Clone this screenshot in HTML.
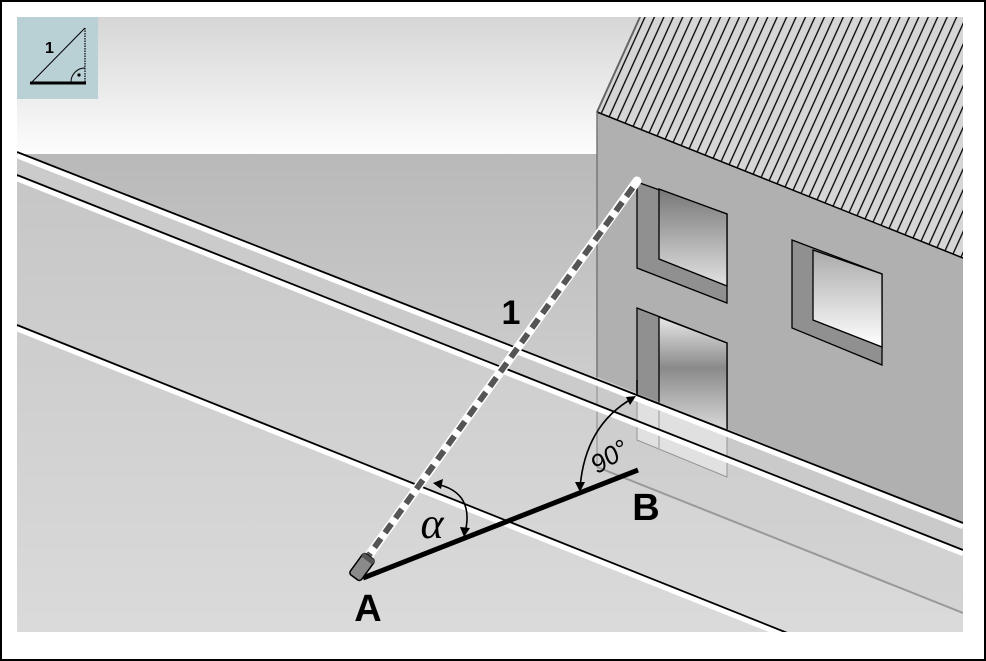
<!DOCTYPE html>
<html><head><meta charset="utf-8"><style>
html,body{margin:0;padding:0;background:#fff;}
svg{display:block;}
</style></head><body>
<svg width="986" height="661" viewBox="0 0 986 661" xmlns="http://www.w3.org/2000/svg">
<defs>
<linearGradient id="sky" x1="0" y1="0" x2="0" y2="1"><stop offset="0" stop-color="#d6d6d6"/><stop offset="1" stop-color="#fdfdfd"/></linearGradient>
<linearGradient id="gnd" x1="0" y1="0" x2="0" y2="1"><stop offset="0" stop-color="#b9b9b9"/><stop offset="1" stop-color="#e3e3e3"/></linearGradient>
<linearGradient id="g1" x1="0" y1="0" x2="0" y2="1"><stop offset="0" stop-color="#777"/><stop offset="1" stop-color="#e2e2e2"/></linearGradient>
<linearGradient id="g2" x1="0" y1="0" x2="0" y2="1"><stop offset="0" stop-color="#aaa"/><stop offset="1" stop-color="#fff"/></linearGradient>
<linearGradient id="g3" x1="0" y1="0" x2="0" y2="1"><stop offset="0" stop-color="#e8e8e8"/><stop offset="0.45" stop-color="#8a8a8a"/><stop offset="1" stop-color="#d8d8d8"/></linearGradient>
<pattern id="hatch" patternUnits="userSpaceOnUse" width="8.6" height="40" patternTransform="rotate(24.4)">
<rect width="8.6" height="40" fill="#d6d6d6"/><line x1="1" y1="0" x2="1" y2="40" stroke="#000" stroke-width="1.3"/></pattern>
<clipPath id="cl"><rect x="17" y="17" width="946" height="615"/></clipPath>
</defs>
<rect x="1" y="1" width="984" height="659" fill="#fff" stroke="#000" stroke-width="2"/>
<g clip-path="url(#cl)">
<rect x="17" y="17" width="946" height="137" fill="url(#sky)"/>
<rect x="17" y="154" width="946" height="478" fill="url(#gnd)"/>
<polygon points="17,152 963,523 963,550 17,175" fill="#cbcbcb"/>
<polygon points="17,175 963,550 963,632 17,632" fill="#d2d2d2" opacity="0.5"/>
<polygon points="597,112 963,258 963,523 597,377" fill="#b0b0b0"/>
<polygon points="597,112 640,17 963,17 963,258" fill="url(#hatch)"/>
<line x1="597" y1="112" x2="640" y2="17" stroke="#666" stroke-width="2"/>
<line x1="597" y1="112" x2="963" y2="258" stroke="#000" stroke-width="1.5"/>
<line x1="597" y1="112" x2="597" y2="377" stroke="#777" stroke-width="1.5"/>
<polygon points="637,182 727,214 727,303 637,268" fill="#909090" stroke="#000" stroke-width="1.3"/>
<polygon points="659,189 727,214 727,286 659,259" fill="url(#g1)" stroke="#000" stroke-width="1.3"/>
<polygon points="792,240 882,274 882,365 792,328" fill="#909090" stroke="#000" stroke-width="1.3"/>
<polygon points="813,250 882,274 882,347 813,320" fill="url(#g2)" stroke="#000" stroke-width="1.3"/>
<polygon points="637,308 727,343 727,430 637,396" fill="#909090" stroke="#000" stroke-width="1.3"/>
<polygon points="659,317 727,343 727,430 659,404" fill="url(#g3)" stroke="#000" stroke-width="1.3"/>
<polygon points="597,377 963,523 963,613 597,467" fill="#c8c8c8" opacity="0.35"/>
<polygon points="637,396 727,430 727,477 637,440" fill="#e6e6e6" opacity="0.8" stroke="#888" stroke-width="1"/>
<line x1="659" y1="404" x2="659" y2="448" stroke="#999" stroke-width="1"/>
<line x1="597" y1="377" x2="597" y2="467" stroke="#999" stroke-width="1.3"/>
<line x1="597" y1="467" x2="963" y2="613" stroke="#999" stroke-width="2"/>
<line x1="637" y1="380" x2="637" y2="400" stroke="#000" stroke-width="1.5"/>
<line x1="17" y1="155.5" x2="963" y2="526.5" stroke="#fff" stroke-width="5.5"/>
<line x1="17" y1="152" x2="963" y2="523" stroke="#000" stroke-width="1.8"/>
<line x1="17" y1="178.5" x2="963" y2="553.5" stroke="#fff" stroke-width="5.5"/>
<line x1="17" y1="175" x2="963" y2="550" stroke="#000" stroke-width="1.8"/>
<line x1="17" y1="328.5" x2="800" y2="641.5" stroke="#fff" stroke-width="5.5"/>
<line x1="17" y1="325" x2="800" y2="638" stroke="#000" stroke-width="1.8"/>
</g>
<rect x="17" y="17" width="81" height="82" fill="#b9d0d5"/>
<line x1="31" y1="83" x2="85" y2="28" stroke="#000" stroke-width="1"/>
<line x1="85" y1="28" x2="85" y2="83" stroke="#000" stroke-width="1.2" stroke-dasharray="1.5 1"/>
<line x1="30" y1="83" x2="86" y2="83" stroke="#000" stroke-width="3"/>
<path d="M71,82 A14,14 0 0 1 85,68" fill="none" stroke="#000" stroke-width="1"/>
<circle cx="79" cy="75" r="1.6" fill="#000"/>
<text x="45" y="53" font-family="Liberation Sans, sans-serif" font-weight="bold" font-size="16">1</text>
<line x1="362" y1="565" x2="637" y2="181" stroke="#fff" stroke-width="9" stroke-linecap="round"/>
<line x1="364" y1="562" x2="636" y2="183" stroke="#555" stroke-width="6" stroke-dasharray="11 7"/>
<line x1="363" y1="578" x2="638" y2="470" stroke="#000" stroke-width="5"/>
<g transform="translate(362,567) rotate(-54)">
<rect x="-13" y="-7" width="26" height="14" rx="3" fill="#8a8a8a" stroke="#000" stroke-width="1.5"/>
<rect x="8" y="-7" width="5" height="14" rx="2" fill="#555"/>
</g>
<path d="M436,484 Q475,492 465,533" fill="none" stroke="#000" stroke-width="1.6"/>
<polygon points="433,483 443,479 441,489" fill="#000"/>
<polygon points="464,537 460,527 470,528" fill="#000"/>
<path d="M633,398 Q585,425 580,488" fill="none" stroke="#000" stroke-width="1.6"/>
<polygon points="636,396 630,405 626,397" fill="#000"/>
<polygon points="580,492 575,482 585,482" fill="#000"/>
<text x="511" y="324" font-family="Liberation Sans, sans-serif" font-weight="bold" font-size="34" text-anchor="middle">1</text>
<text x="368" y="621" font-family="Liberation Sans, sans-serif" font-weight="bold" font-size="38" text-anchor="middle">A</text>
<text x="646" y="520" font-family="Liberation Sans, sans-serif" font-weight="bold" font-size="38" text-anchor="middle">B</text>
<text x="432" y="538" font-family="Liberation Serif, serif" font-style="italic" font-size="44" text-anchor="middle">α</text>
<text x="0" y="0" transform="translate(614,464) rotate(-32)" font-family="Liberation Sans, sans-serif" font-style="italic" font-size="26" text-anchor="middle">90°</text>
</svg>
</body></html>
